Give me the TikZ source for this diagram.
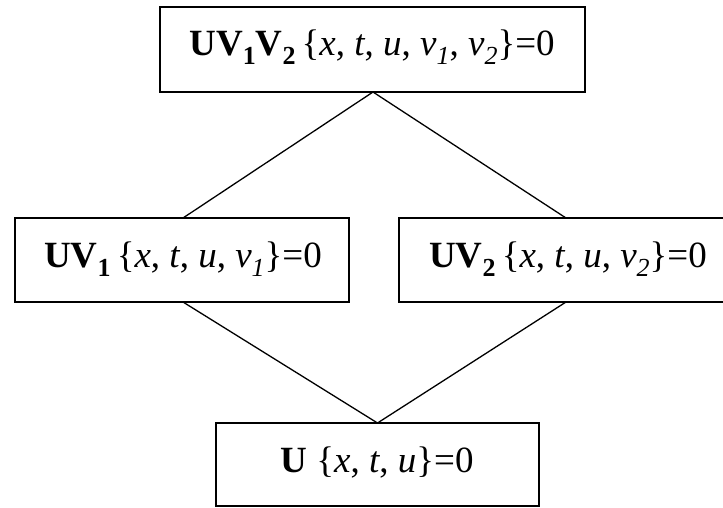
\documentclass[tikz,border=0pt]{standalone}
\usepackage{fontspec}
\setmainfont{Liberation Serif}
\newcommand{\bsub}[1]{\raisebox{-9pt}{\fontsize{26}{26}\selectfont\textbf{#1}}}
\newcommand{\isub}[1]{\raisebox{-9pt}{\fontsize{26}{26}\selectfont\textit{#1}}}
\begin{document}
\begin{tikzpicture}[x=1pt,y=-1pt,
  box/.style={draw, line width=1.9pt, inner sep=0pt, outer sep=0pt},
  lbl/.style={anchor=base, inner sep=0pt, font=\fontsize{37}{44}\selectfont},
  conn/.style={line width=1.3pt}]
\useasboundingbox (0,0) rectangle (723,507);
% boxes
\node[box, minimum width=425pt, minimum height=85pt] (top) at (372.5,49.5) {};
\node[box, minimum width=334pt, minimum height=84pt] (left) at (182,260) {};
\node[box, minimum width=328pt, minimum height=84pt] (right) at (563,260) {};
\node[box, minimum width=323pt, minimum height=83pt] (bot) at (377.5,464.5) {};
% labels
\node[lbl] (ttop) at (372,55)
  {\textbf{UV}\bsub{1}\textbf{V}\bsub{2}\,\{\textit{x}, \textit{t}, \textit{u}, \textit{v}\isub{1}, \textit{v}\isub{2}\}=0};
\node[lbl] (tleft) at (183,267)
  {\textbf{UV}\bsub{1}\,\{\textit{x}, \textit{t}, \textit{u}, \textit{v}\isub{1}\}=0};
\node[lbl] (tright) at (568,267)
  {\textbf{UV}\bsub{2}\,\{\textit{x}, \textit{t}, \textit{u}, \textit{v}\isub{2}\}=0};
\node[lbl] (tbot) at (377,472)
  {\textbf{U} \{\textit{x}, \textit{t}, \textit{u}\}=0};
% connectors
\coordinate (lt) at ([xshift=1pt]left.north);
\coordinate (rt) at ([xshift=3pt]right.north);
\coordinate (lb) at ([xshift=1pt]left.south);
\coordinate (rb) at ([xshift=3pt]right.south);
\draw[conn] ([xshift=0.5pt]top.south) -- (lt);
\draw[conn] ([xshift=0.5pt]top.south) -- (rt);
\draw[conn] (lb) -- (bot.north);
\draw[conn] (rb) -- (bot.north);
\end{tikzpicture}
\end{document}
